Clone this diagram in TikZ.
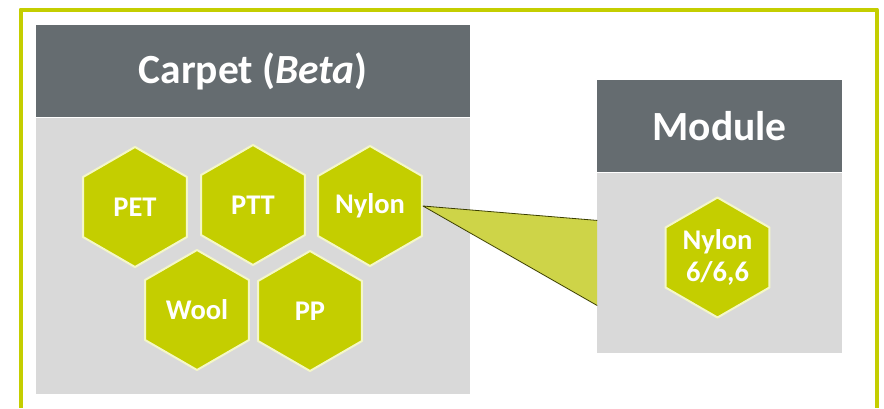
\documentclass[tikz,border=0pt]{standalone}
\usepackage{fontspec}
\setmainfont{Carlito}
\usetikzlibrary{shapes.geometric,positioning,calc}
\definecolor{limeg}{RGB}{196,206,0}
\definecolor{slate}{RGB}{101,108,112}
\definecolor{pale}{RGB}{217,217,217}
\definecolor{wedge}{RGB}{206,212,72}
\definecolor{rim}{RGB}{244,247,200}
\begin{document}
\begin{tikzpicture}[x=1pt, y=-1pt, font=\bfseries, line join=round, line cap=round,
	hexa/.style={regular polygon, regular polygon sides=6, shape border rotate=30,
		minimum size=120pt, inner sep=0pt, fill=limeg, draw=rim, line width=2pt,
		text=white, align=center, font=\bfseries\fontsize{28.5}{32}\selectfont},
	head/.style={fill=slate, text=white, inner sep=0pt, anchor=north west,
		font=\bfseries\fontsize{41.5}{44}\selectfont},
	panel/.style={fill=pale, inner sep=0pt, anchor=north west}]
	\useasboundingbox (0,0) rectangle (884,408);
	% outer frame, open at the bottom
	\draw [limeg, line width=4pt, line cap=butt] (20.5,408)--(20.5,9.5)--(877,9.5)--(877,408);
	% carpet box
	\node [head, minimum width=434pt, minimum height=92pt] (carpethead) at (36,25) {Carpet (\textit{Beta})};
	\node [panel, minimum width=434pt, minimum height=276pt] (carpetbody) at (carpethead.south west) {};
	% module box
	\node [head, minimum width=245pt, minimum height=92pt] (modhead) at (597,80) {Module};
	\node [panel, minimum width=245pt, minimum height=180pt] (modbody) at (modhead.south west) {};
	% hexagons
	\node [hexa] (pet) at (135,207) {PET};
	\node [hexa] (ptt) at (253,205) {PTT};
	\node [hexa] (nylon) at (370,206) {Nylon};
	\node [hexa] (wool) at (197,310) {Wool};
	\node [hexa] (pp) at (310,311) {PP};
	\node [hexa] (nylonmod) at (717.5,257.5) {Nylon\\6/6,6};
	% zoom wedge
	\coordinate (wtop) at ($(modbody.north west)+(0,48)$);
	\coordinate (wbot) at ($(modbody.north west)+(0,133)$);
	\fill [wedge] (nylon.east)--(wtop)--(wbot)--cycle;
	\draw [black!70!limeg, thick] (wtop)--(nylon.east)--(wbot);
\end{tikzpicture}
\end{document}
